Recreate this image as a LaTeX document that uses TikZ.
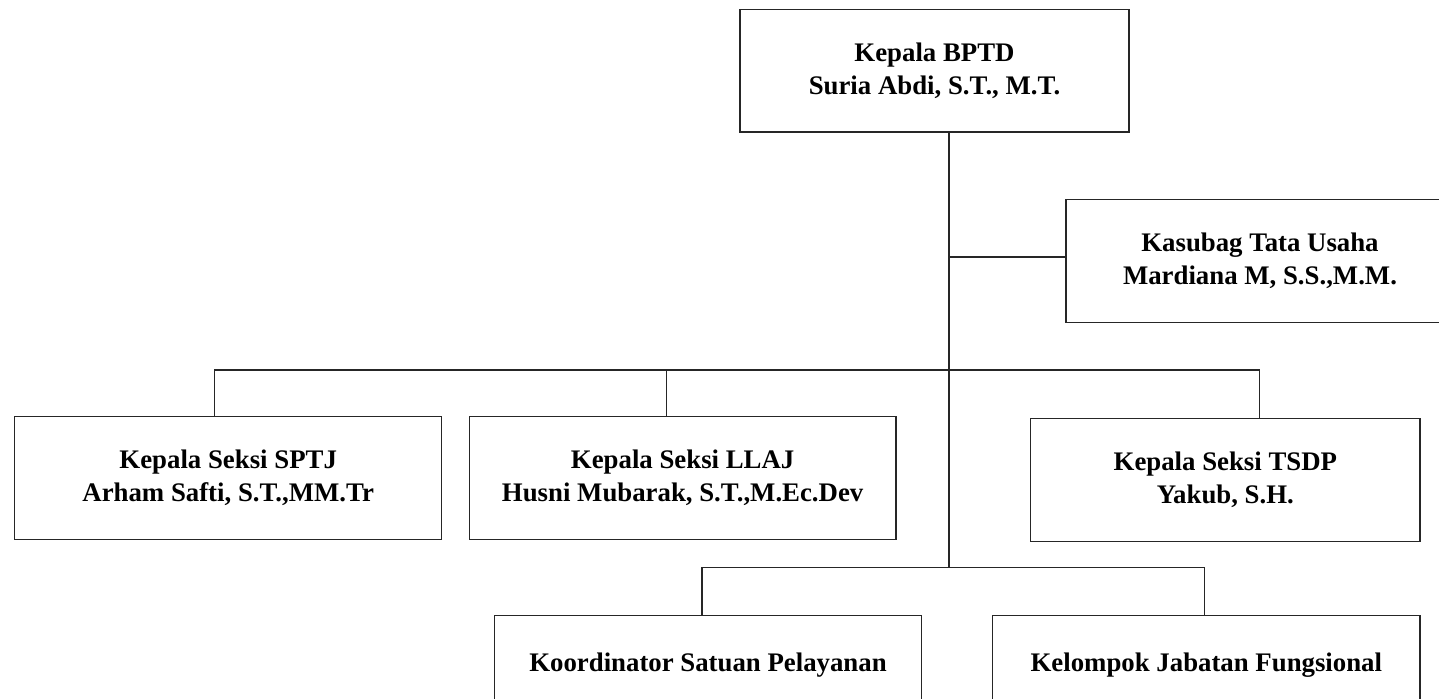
\documentclass[tikz,border=0pt]{standalone}
\usepackage{fontspec}
\setmainfont{Liberation Serif}
\begin{document}
\begin{tikzpicture}[x=0.5pt,y=-0.5pt,
  orgbox/.style={draw=black!85, line width=0.6pt, rectangle, inner sep=0pt, align=center,
    font=\fontsize{13.4pt}{16.5pt}\selectfont\bfseries},
  lowbox/.style={orgbox, anchor=north, text height=28pt, text depth=32.5pt},
  conn/.style={draw=black!85, line width=0.6pt}]
\useasboundingbox (0,0) rectangle (1439,699);
\clip (0,0) rectangle (1439,699);
\fill[white] (0,0) rectangle (1439,699);
% boxes
\node[orgbox, minimum width=194.5pt, minimum height=61.35pt] (top) at (934.5,70.7)
  {Kepala BPTD\\Suria Abdi, S.T., M.T.};
\node[orgbox, minimum width=194pt, minimum height=61.5pt] (kas) at (1260,260.8)
  {Kasubag Tata Usaha\\Mardiana M, S.S.,M.M.};
\node[orgbox, minimum width=213.5pt, minimum height=61.3pt] (sptj) at (228.2,478)
  {Kepala Seksi SPTJ\\Arham Safti, S.T.,MM.Tr};
\node[orgbox, minimum width=213.35pt, minimum height=61.3pt] (llaj) at (682.65,478)
  {Kepala Seksi LLAJ\\Husni Mubarak, S.T.,M.Ec.Dev};
\node[orgbox, minimum width=194.65pt, minimum height=61.4pt] (tsdp) at (1225.35,480.1)
  {Kepala Seksi TSDP\\Yakub, S.H.};
\node[lowbox, minimum width=213.3pt] (koord) at (708,615)
  {Koordinator Satuan Pelayanan};
\node[lowbox, minimum width=213.65pt] (kjf) at (1206.35,615)
  {Kelompok Jabatan Fungsional};
% junction coordinates
\coordinate (j1) at (949,257);
\coordinate (j3) at (949,567.3);
\coordinate (hL) at (214.3,370);
\coordinate (hM) at (666.7,370);
\coordinate (hR) at (1259.3,370);
\coordinate (bL) at (702,567.3);
\coordinate (bR) at (1204.3,567.3);
% connectors
\draw[conn] (j1 |- top.south) -- (j3);
\draw[conn] (j1) -- (j1 -| kas.west);
\draw[conn] (hL |- sptj.north) -- (hL) -- (hR) -- (hR |- tsdp.north);
\draw[conn] (hM) -- (hM |- llaj.north);
\draw[conn] (bL |- koord.north) -- (bL) -- (bR) -- (bR |- kjf.north);
\end{tikzpicture}
\end{document}
